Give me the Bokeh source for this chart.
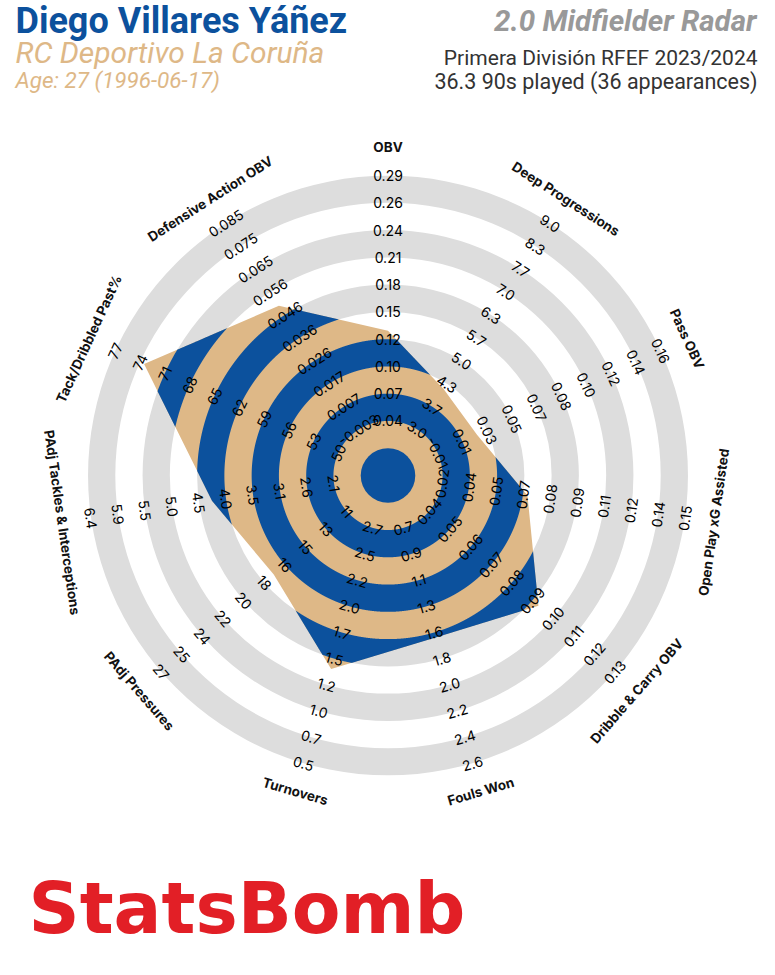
import numpy as np
from bokeh.plotting import figure
from bokeh.models import Range1d
from bokeh.embed import file_html
from bokeh.resources import INLINE
from bokeh.core.properties import value

# ---------------- data ----------------
metrics = ["OBV", "Deep Progressions", "Pass OBV", "Open Play xG Assisted",
           "Dribble & Carry OBV", "Fouls Won", "Turnovers", "PAdj Pressures",
           "PAdj Tackles & Interceptions", "Tack/Dribbled Past%", "Defensive Action OBV"]
player_values = [0.132, 4.18, 0.020, 0.069, 0.093, 1.585, 1.38, 17.3, 4.26, 73.5, 0.0498]
scale_low = [0.04, 3.0, -0.01, 0.025, 0.04, 0.7, 2.7, 11, 2.1, 50, -0.003]
scale_high = [0.29, 9.0, 0.16, 0.15, 0.13, 2.6, 0.5, 27, 6.4, 77, 0.085]
tick_labels = [
    ["0.04", "0.07", "0.10", "0.12", "0.15", "0.18", "0.21", "0.24", "0.26", "0.29"],
    ["3.0", "3.7", "4.3", "5.0", "5.7", "6.3", "7.0", "7.7", "8.3", "9.0"],
    ["-0.01", "0.01", "0.03", "0.05", "0.07", "0.08", "0.10", "0.12", "0.14", "0.16"],
    ["0.02", "0.04", "0.05", "0.07", "0.08", "0.09", "0.11", "0.12", "0.14", "0.15"],
    ["0.04", "0.05", "0.06", "0.07", "0.08", "0.09", "0.10", "0.11", "0.12", "0.13"],
    ["0.7", "0.9", "1.1", "1.3", "1.6", "1.8", "2.0", "2.2", "2.4", "2.6"],
    ["2.7", "2.5", "2.2", "2.0", "1.7", "1.5", "1.2", "1.0", "0.7", "0.5"],
    ["11", "13", "15", "16", "18", "20", "22", "24", "25", "27"],
    ["2.1", "2.6", "3.1", "3.5", "4.0", "4.5", "5.0", "5.5", "5.9", "6.4"],
    ["50", "53", "56", "59", "62", "65", "68", "71", "74", "77"],
    ["-0.003", "0.007", "0.017", "0.026", "0.036", "0.046", "0.056", "0.065", "0.075", "0.085"],
]
player_name = "Diego Villares Yáñez"
team_name = "RC Deportivo La Coruña"
age_text = "Age: 27 (1996-06-17)"
radar_title = "2.0 Midfielder Radar"
competition = "Primera División RFEF 2023/2024"
minutes_text = "36.3 90s played (36 appearances)"
brand = "StatsBomb"

# ---------------- style / geometry ----------------
W, H = 759, 959
BLUE = "#0c519d"
TAN = "#deb887"
GRAY = "#dddddd"
cx, cy = 387.5, H - 475.0
ring = 27.27
n = len(metrics)
axis_deg = np.array([90 - 360.0 / n * i for i in range(n)])
axis_rad = np.radians(axis_deg)


def radius_of(i, v):
    lo, hi = scale_low[i], scale_high[i]
    k = 2 + 9 * (v - lo) / (hi - lo)
    return k * ring


rv = np.array([radius_of(i, v) for i, v in enumerate(player_values)])
vx = cx + rv * np.cos(axis_rad)
vy = cy + rv * np.sin(axis_rad)

# radius of polygon along sampled angles (star shaped about centre)
thetas = []
Rs = []
per = 500
for i in range(n):
    j = (i + 1) % n
    a0 = axis_rad[i]
    a1 = axis_rad[i] - 2 * np.pi / n
    A = np.array([vx[i] - cx, vy[i] - cy])
    B = np.array([vx[j] - cx, vy[j] - cy])
    E = B - A
    th = np.linspace(a0, a1, per, endpoint=False)
    dx, dy = np.cos(th), np.sin(th)
    num = A[0] * E[1] - A[1] * E[0]
    den = dx * E[1] - dy * E[0]
    thetas.append(th)
    Rs.append(num / den)
thetas = np.concatenate(thetas)
Rs = np.concatenate(Rs)
cth, sth = np.cos(thetas), np.sin(thetas)

band_xs, band_ys = [], []
for k in [3, 5, 7, 9, 11]:
    r_in, r_out = (k - 1) * ring, k * ring
    rho = np.clip(Rs, r_in, r_out)
    mask = Rs > r_in + 1e-6
    polys_x, polys_y = [], []
    if mask.all():
        polys_x.append([list(cx + rho * cth), list(cx + r_in * cth)])
        polys_y.append([list(cy + rho * sth), list(cy + r_in * sth)])
    elif mask.any():
        start = int(np.argmin(mask))
        idx = np.roll(np.arange(len(mask)), -start)
        m = mask[idx]
        runs = []
        cur = None
        for pos, flag in enumerate(m):
            if flag and cur is None:
                cur = pos
            elif not flag and cur is not None:
                runs.append((cur, pos))
                cur = None
        if cur is not None:
            runs.append((cur, len(m)))
        for s, e in runs:
            sel = idx[max(s - 1, 0):min(e + 1, len(m))]
            ox = cx + rho[sel] * cth[sel]
            oy = cy + rho[sel] * sth[sel]
            ix = (cx + r_in * cth[sel])[::-1]
            iy = (cy + r_in * sth[sel])[::-1]
            polys_x.append([list(np.concatenate([ox, ix]))])
            polys_y.append([list(np.concatenate([oy, iy]))])
    if polys_x:
        band_xs.append(polys_x)
        band_ys.append(polys_y)


def tangent_rot(deg):
    a = (deg - 90 + 180) % 360 - 180
    if a > 90:
        a -= 180
    elif a < -90:
        a += 180
    return a


# ---------------- figure ----------------
p = figure(width=W, height=H, x_range=Range1d(0, W), y_range=Range1d(0, H),
           output_backend="svg", toolbar_location=None, min_border=0)
p.axis.visible = False
p.grid.visible = False
p.outline_line_color = None
p.background_fill_color = "white"
p.border_fill_color = "white"

# outer grey rings
gk = [3, 5, 7, 9, 11]
p.annulus(x=[cx] * len(gk), y=[cy] * len(gk),
          inner_radius=[(k - 1) * ring for k in gk], outer_radius=[k * ring for k in gk],
          fill_color=GRAY, line_color=None)

# radar polygon
p.patch(list(vx), list(vy), fill_color=TAN, line_color=None)
p.multi_polygons(xs=band_xs, ys=band_ys, fill_color=BLUE, line_color=None)
p.circle(x=[cx], y=[cy], radius=ring, fill_color=BLUE, line_color=None)

# tick labels
tx, ty, tt, ta = [], [], [], []
for i in range(n):
    rot = tangent_rot(axis_deg[i])
    for kk, lab in enumerate(tick_labels[i]):
        r = (kk + 2) * ring
        tx.append(cx + r * np.cos(axis_rad[i]))
        ty.append(cy + r * np.sin(axis_rad[i]))
        tt.append(lab)
        ta.append(rot)
p.text(x=tx, y=ty, text=tt, angle=ta, angle_units="deg", text_align="center",
       text_baseline="middle", text_font=value("Inter"), text_font_size="14px",
       text_color="#000000")

# metric labels
lr = 329
p.text(x=list(cx + lr * np.cos(axis_rad)), y=list(cy + lr * np.sin(axis_rad)), text=metrics,
       angle=[tangent_rot(d) for d in axis_deg], angle_units="deg", text_align="center",
       text_baseline="middle", text_font=value("Inter"), text_font_size="13.5px",
       text_font_style="bold", text_color="#111111")

# header
p.text(x=[15], y=[H - 20], text=[player_name], text_font=value("Roboto"),
       text_font_size="36px", text_font_style="bold", text_color=BLUE,
       text_baseline="middle", text_align="left")
p.text(x=[15], y=[H - 52], text=[team_name], text_font=value("Roboto"),
       text_font_size="30px", text_font_style="italic", text_color=TAN,
       text_baseline="middle", text_align="left")
p.text(x=[15], y=[H - 79], text=[age_text], text_font=value("Roboto"),
       text_font_size="22.5px", text_font_style="italic", text_color=TAN,
       text_baseline="middle", text_align="left")
p.text(x=[756], y=[H - 20], text=[radar_title], text_font=value("Roboto"),
       text_font_size="29.5px", text_font_style="bold italic", text_color="#999999",
       text_baseline="middle", text_align="right")
p.text(x=[757], y=[H - 57], text=[competition], text_font=value("Roboto"),
       text_font_size="21px", text_color="#333333",
       text_baseline="middle", text_align="right")
p.text(x=[757], y=[H - 81], text=[minutes_text], text_font=value("Roboto"),
       text_font_size="21.5px", text_color="#333333",
       text_baseline="middle", text_align="right")

# brand
p.text(x=[28], y=[H - 908], text=[brand], text_font=value("DejaVu Sans"),
       text_font_size="71px", text_font_style="bold", text_color="#e21f26",
       text_baseline="middle", text_align="left")

open("out.html", "w").write(file_html(p, INLINE))
